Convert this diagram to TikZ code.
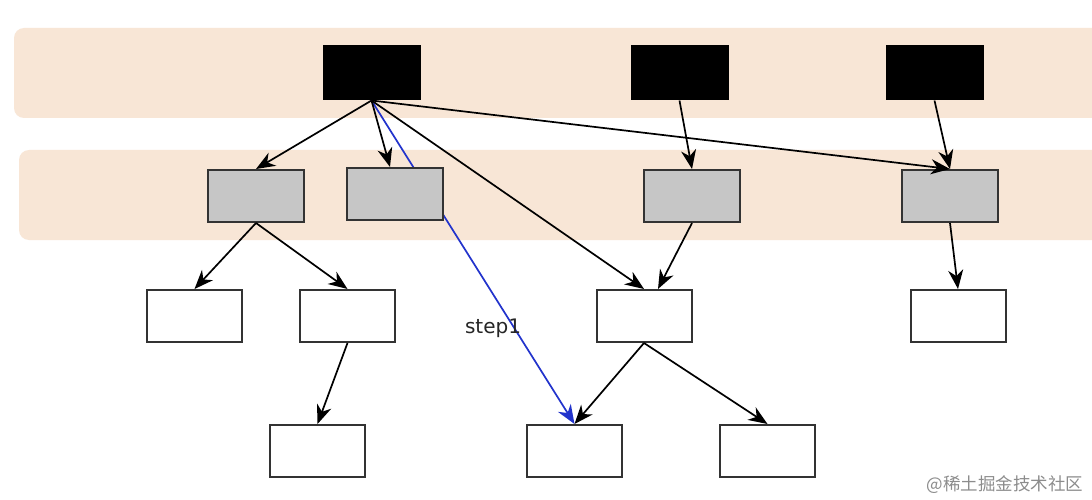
\documentclass[tikz,border=0pt]{standalone}
\usepackage{fontspec}
\setmainfont{DejaVu Sans}
\newfontfamily\cjk{Noto Sans CJK SC}
\usetikzlibrary{arrows.meta}
\definecolor{band}{HTML}{F8E6D6}
\definecolor{boxline}{HTML}{333333}
\definecolor{stepblue}{HTML}{2233CC}
\begin{document}
\begin{tikzpicture}[x=1pt,y=-1pt,
  bandbox/.style={fill=band,rounded corners=10pt,draw=none},
  blackbox/.style={draw=black,fill=black,minimum width=97pt,minimum height=54pt,inner sep=0pt,line width=1pt},
  graybox/.style={draw=boxline,fill=gray!45,minimum width=96pt,minimum height=52pt,inner sep=0pt,line width=2pt},
  whitebox/.style={draw=boxline,fill=white,minimum width=95pt,minimum height=52pt,inner sep=0pt,line width=2pt},
  arr/.style={-{Stealth[length=19pt,width=15pt,inset=6pt]},line width=1.7pt,black},
  bluearr/.style={-{Stealth[length=19pt,width=15pt,inset=6pt]},line width=1.7pt,stepblue}]
\useasboundingbox (0,0) rectangle (1092,500);
\fill[white] (0,0) rectangle (1092,500);
\fill[bandbox] (14,28) rectangle (1110,118);
\fill[bandbox] (19,150) rectangle (1110,240);
% nodes needed by the blue line
\node[blackbox] (B1) at (371.5,73) {};
\node[whitebox] (W6) at (574.5,451) {};
\draw[bluearr] (B1.south) -- (W6.north);
% other nodes (G2 drawn over the blue line)
\node[blackbox] (B2) at (679.5,73) {};
\node[blackbox] (B3) at (934.5,73) {};
\node[graybox] (G1) at (256,196) {};
\node[graybox] (G2) at (395,194) {};
\node[graybox] (G3) at (692,196) {};
\node[graybox] (G4) at (950,196) {};
\node[whitebox] (W1) at (194.5,316) {};
\node[whitebox] (W2) at (347.5,316) {};
\node[whitebox] (W3) at (644,316) {};
\node[whitebox] (W4) at (958,316) {};
\node[whitebox] (W5) at (317.5,451) {};
\node[whitebox] (W7) at (767.5,451) {};
% arrows
\draw[arr] (B1.south) -- (G1.north);
\draw[arr] (B1.south) -- ([xshift=-5pt]G2.north);
\draw[arr] (B1.south) -- (W3.north);
\draw[arr] (B1.south) -- (G4.north);
\draw[arr] (B2.south) -- (G3.north);
\draw[arr] (B3.south) -- (G4.north);
\draw[arr] (G1.south) -- (W1.north);
\draw[arr] (G1.south) -- (W2.north);
\draw[arr] (G3.south) -- ([xshift=14pt]W3.north);
\draw[arr] (G4.south) -- (W4.north);
\draw[arr] (W2.south) -- (W5.north);
\draw[arr] (W3.south) -- (W6.north);
\draw[arr] (W3.south) -- (W7.north);
\node[font=\fontsize{20}{24}\selectfont,text=black!85] (step) at (493,328) {step1};
\node[font=\cjk\fontsize{17.5}{20}\selectfont,text=black!45,anchor=east] (wm) at (1087,485) {@稀土掘金技术社区};
\end{tikzpicture}
\end{document}
